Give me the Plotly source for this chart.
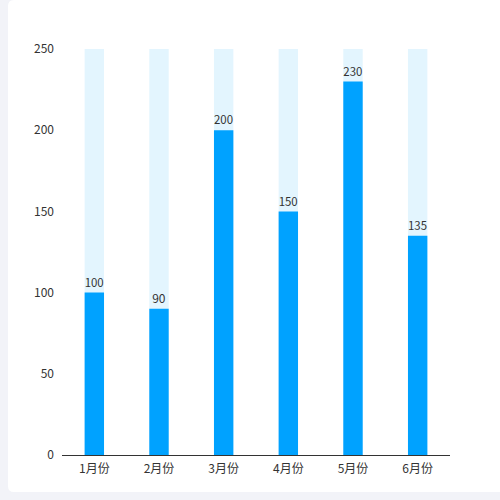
import plotly.graph_objects as go

# Data
months = ['1月份', '2月份', '3月份', '4月份', '5月份', '6月份']
values = [100, 90, 200, 150, 230, 135]
max_values = [250, 250, 250, 250, 250, 250]

fig = go.Figure()

# light background bars (full height)
fig.add_trace(go.Bar(
    x=months, y=max_values, width=0.3,
    marker_color='#e3f5fe', marker_line_width=0,
    hoverinfo='skip', showlegend=False,
))

# actual values
fig.add_trace(go.Bar(
    x=months, y=values, width=0.3,
    marker_color='#00a2ff', marker_line_width=0,
    text=values, textposition='outside',
    textfont=dict(size=12, color='#333333'),
    cliponaxis=False, showlegend=False,
))

# card behind the chart (page is light gray, card is white)
L, R, T, B = 62, 450, 49, 455
pw, ph = R - L, B - T


def px_x(v):
    return (v - L) / pw


def px_y(v):
    return (B - v) / ph


x0, x1 = px_x(8), px_x(520)
y0, y1 = px_y(492), px_y(0)
rx, ry = 6 / pw, 6 / ph
card_path = (
    f'M {x0 + rx} {y0} L {x1} {y0} L {x1} {y1 - ry} '
    f'L {x1} {y1} L {x0 + rx} {y1} Q {x0} {y1} {x0} {y1 - ry} '
    f'L {x0} {y0 + ry} Q {x0} {y0} {x0 + rx} {y0} Z'
)

fig.update_layout(
    width=500, height=500,
    margin=dict(l=L, r=500 - R, t=T, b=500 - B),
    paper_bgcolor='#f2f3f8',
    plot_bgcolor='white',
    barmode='overlay',
    font=dict(family='Noto Sans CJK SC', size=12, color='#333333'),
    shapes=[dict(type='path', path=card_path, xref='paper', yref='paper',
                 fillcolor='white', line_width=0, layer='below')],
    xaxis=dict(showline=True, linecolor='#333333', linewidth=1,
               ticks='', showgrid=False, ticklabelstandoff=3,
               tickfont=dict(size=12, color='#333333')),
    yaxis=dict(range=[0, 250], dtick=50, showgrid=False, zeroline=False,
               showline=False, ticks='', ticklen=0, ticklabelstandoff=7,
               tickfont=dict(size=12, color='#333333')),
)

# page has no body margin so the figure fills the window
fig.write_html('out.html', config={'displayModeBar': False},
               post_script="document.body.style.margin='0';")
